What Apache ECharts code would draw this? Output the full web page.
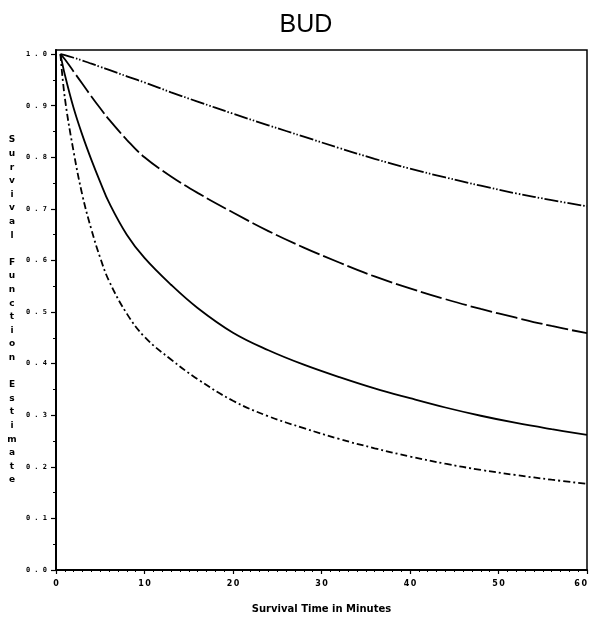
<!DOCTYPE html>
<html>
<head>
<meta charset="utf-8">
<script src="https://cdn.jsdelivr.net/npm/echarts@6/dist/echarts.min.js"></script>
<style>
  html, body { margin: 0; padding: 0; background: #fff; }
  #chart { width: 590px; height: 622px; }
</style>
</head>
<body>
<div id="chart"></div>
<script>
// Survival time (minutes) at which each estimate is read
const minutes = [0.5, 1, 2, 3, 4, 5, 6, 8, 10, 13, 16, 20, 24, 28, 32, 36, 40, 44, 48, 52, 56, 60];

// Survival function estimates, one curve per group
const curveA = [1.0, 0.998, 0.993, 0.9875, 0.9815, 0.9755, 0.9695, 0.957, 0.945, 0.926, 0.908, 0.8845, 0.862, 0.84, 0.818, 0.797, 0.778, 0.761, 0.745, 0.730, 0.717, 0.705];
const curveB = [1.0, 0.99, 0.966, 0.942, 0.918, 0.895, 0.873, 0.834, 0.800, 0.763, 0.731, 0.693, 0.657, 0.625, 0.596, 0.569, 0.546, 0.525, 0.506, 0.489, 0.473, 0.459];
const curveC = [1.0, 0.96, 0.895, 0.842, 0.795, 0.752, 0.712, 0.65, 0.605, 0.553, 0.508, 0.46, 0.426, 0.398, 0.374, 0.352, 0.333, 0.315, 0.299, 0.285, 0.273, 0.262];
const curveD = [1.0, 0.915, 0.81, 0.725, 0.66, 0.605, 0.56, 0.497, 0.452, 0.408, 0.37, 0.328, 0.298, 0.275, 0.254, 0.236, 0.22, 0.206, 0.194, 0.184, 0.175, 0.167];

// Axis tick values
const yTicks = [0, 0.1, 0.2, 0.3, 0.4, 0.5, 0.6, 0.7, 0.8, 0.9, 1.0];
const xTicks = [0, 10, 20, 30, 40, 50, 60];

const yTitle = 'Survival Function Estimate';
const xTitle = 'Survival Time in Minutes';

const pair = (ys) => minutes.map((t, i) => [t, ys[i]]);

const lineSeries = (ys, dash) => ({
  type: 'line',
  data: pair(ys),
  showSymbol: false,
  smooth: 0.4,
  silent: true,
  lineStyle: { color: '#000', width: 1.8, type: dash }
});

const chart = echarts.init(document.getElementById('chart'), null, { renderer: 'canvas' });

chart.setOption({
  animation: false,
  backgroundColor: '#fff',
  title: {
    text: 'BUD',
    left: 301,
    textAlign: 'center',
    top: 8,
    textStyle: { fontFamily: 'Liberation Sans, Arial, sans-serif', fontSize: 25, fontWeight: 'normal', color: '#000' }
  },
  grid: {
    left: 56, right: 3, top: 50, bottom: 52,
    outerBoundsMode: 'none',
    containLabel: false,
    show: true, borderColor: '#000', borderWidth: 1.5, backgroundColor: 'transparent'
  },
  xAxis: {
    type: 'value',
    min: 0, max: 60, interval: 10,
    splitLine: { show: false },
    axisLine: { lineStyle: { color: '#000', width: 2 } },
    axisTick: { show: true, length: 4, lineStyle: { color: '#000', width: 1.2 } },
    minorTick: { show: true, splitNumber: 10, length: 2, lineStyle: { color: '#000', width: 1 } },
    axisLabel: {
      customValues: xTicks,
      margin: 10,
      alignMaxLabel: 'right',
      fontFamily: 'DejaVu Sans, sans-serif', fontSize: 8, fontWeight: 'bold', color: '#000',
      formatter: (v) => String(v).split('').join('\u2009')
    },
    name: xTitle,
    nameLocation: 'middle',
    nameGap: 34,
    nameTextStyle: { fontFamily: 'DejaVu Sans, sans-serif', fontSize: 10, fontWeight: 'bold', color: '#000' }
  },
  yAxis: {
    type: 'value',
    min: 0, max: 1.008, interval: 0.1,
    splitLine: { show: false },
    axisLine: { lineStyle: { color: '#000', width: 2 } },
    axisTick: { show: true, length: 5, customValues: yTicks, lineStyle: { color: '#000', width: 1.2 } },
    minorTick: { show: true, splitNumber: 2, length: 3, lineStyle: { color: '#000', width: 1 } },
    axisLabel: {
      customValues: yTicks,
      margin: 9,
      fontFamily: 'DejaVu Sans Mono, monospace', fontSize: 7, fontWeight: 'bold', color: '#000',
      formatter: (v) => v.toFixed(1).split('').join(' ')
    },
    name: yTitle.split('').join('\n'),
    nameLocation: 'middle',
    nameRotate: 0,
    nameGap: 44,
    nameTextStyle: {
      fontFamily: 'DejaVu Sans, sans-serif', fontSize: 9, fontWeight: 'bold', color: '#000',
      lineHeight: 13.6, align: 'center', padding: [12, 0, 0, 0]
    }
  },
  series: [
    lineSeries(curveA, [14, 2, 1.5, 2, 1.5, 2]),
    lineSeries(curveB, [22, 4]),
    lineSeries(curveC, 'solid'),
    lineSeries(curveD, [7, 3, 2, 3])
  ]
});
</script>
</body>
</html>
